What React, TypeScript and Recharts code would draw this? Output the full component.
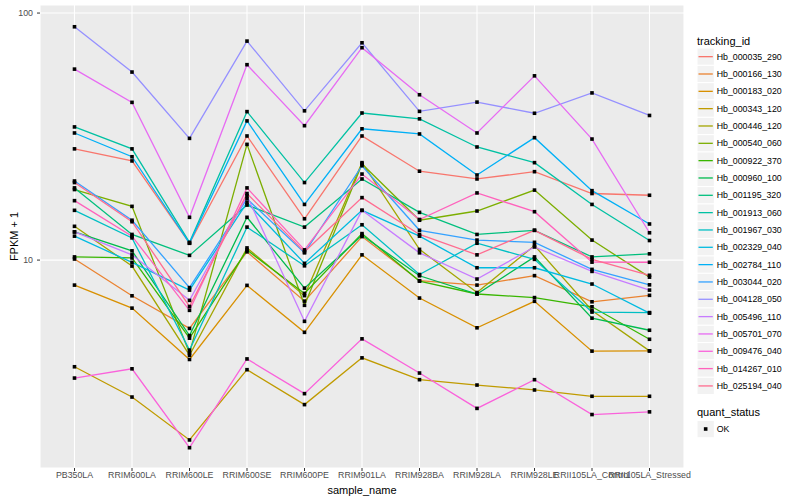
import { LineChart, Line, XAxis, YAxis, CartesianGrid } from "recharts";

const SAMPLES = [
  "PB350LA",
  "RRIM600LA",
  "RRIM600LE",
  "RRIM600SE",
  "RRIM600PE",
  "RRIM901LA",
  "RRIM928BA",
  "RRIM928LA",
  "RRIM928LE",
  "RRII105LA_Control",
  "RRII105LA_Stressed",
];

// FPKM + 1 per sample, one array per tracking_id
const HB_000035_290 = [28.2, 25.2, 11.7, 31.8, 14.7, 31.8, 22.9, 21.3, 22.8, 18.6, 18.3];
const HB_000166_130 = [10.1, 7.17, 5.29, 10.8, 6.82, 12.45, 8.25, 7.92, 8.65, 6.78, 7.2];
const HB_000183_020 = [7.92, 6.39, 3.96, 7.9, 5.1, 10.5, 7.02, 5.32, 6.81, 4.28, 4.29];
const HB_000343_120 = [3.7, 2.79, 1.87, 3.6, 2.6, 4.02, 3.28, 3.12, 2.98, 2.81, 2.81];
const HB_000446_120 = [13.7, 9.46, 4.12, 11.2, 7.18, 24.8, 11.05, 7.39, 11.45, 6.25, 4.29];
const HB_000540_060 = [19.3, 16.5, 4.2, 29.4, 6.56, 24.5, 14.5, 15.8, 19.2, 12.05, 8.53];
const HB_000922_370 = [10.3, 10.2, 4.83, 10.98, 7.33, 12.8, 8.22, 7.29, 7.05, 6.47, 4.78];
const HB_000960_100 = [13.0, 10.9, 4.95, 14.9, 7.7, 12.6, 8.64, 7.29, 10.3, 5.82, 5.2];
const HB_001195_320 = [19.6, 12.7, 10.45, 16.7, 13.6, 21.3, 15.6, 12.7, 13.2, 10.3, 10.6];
const HB_001913_060 = [34.6, 28.2, 11.8, 39.9, 20.6, 39.4, 37.3, 28.7, 24.8, 16.8, 12.0];
const HB_001967_030 = [15.9, 12.3, 4.32, 13.6, 9.48, 13.9, 8.74, 11.7, 10.07, 6.16, 6.13];
const HB_002329_040 = [12.5, 9.79, 7.56, 17.1, 9.7, 15.9, 12.5, 9.31, 9.31, 8.0, 6.1];
const HB_002784_110 = [32.7, 26.2, 11.7, 36.6, 16.8, 34.0, 32.4, 22.1, 31.3, 19.1, 14.0];
const HB_003044_020 = [20.9, 14.5, 7.74, 17.7, 10.7, 24.1, 13.2, 12.05, 11.8, 9.17, 7.94];
const HB_004128_050 = [88.0, 57.7, 31.1, 77.0, 40.2, 75.8, 40.0, 43.6, 39.3, 47.5, 38.5];
const HB_005496_110 = [13.0, 10.5, 6.87, 18.2, 5.65, 15.9, 10.7, 8.38, 11.3, 9.0, 7.56];
const HB_005701_070 = [59.3, 43.5, 14.9, 61.8, 35.0, 72.4, 46.7, 32.7, 55.7, 30.9, 12.9];
const HB_009476_040 = [3.33, 3.63, 1.74, 3.98, 2.88, 4.8, 3.49, 2.51, 3.28, 2.37, 2.43];
const HB_014267_010 = [17.4, 12.5, 6.26, 19.6, 11.0, 22.3, 14.6, 18.7, 15.7, 9.81, 9.8];
const HB_025194_040 = [20.6, 14.3, 6.49, 18.6, 10.8, 17.9, 12.7, 10.5, 13.2, 10.07, 8.68];

const SERIES = [
  { id: "Hb_000035_290", color: "#F8766D", values: HB_000035_290 },
  { id: "Hb_000166_130", color: "#EA8331", values: HB_000166_130 },
  { id: "Hb_000183_020", color: "#D89000", values: HB_000183_020 },
  { id: "Hb_000343_120", color: "#C09B00", values: HB_000343_120 },
  { id: "Hb_000446_120", color: "#A3A500", values: HB_000446_120 },
  { id: "Hb_000540_060", color: "#7CAE00", values: HB_000540_060 },
  { id: "Hb_000922_370", color: "#39B600", values: HB_000922_370 },
  { id: "Hb_000960_100", color: "#00BB4E", values: HB_000960_100 },
  { id: "Hb_001195_320", color: "#00BF7D", values: HB_001195_320 },
  { id: "Hb_001913_060", color: "#00C1A3", values: HB_001913_060 },
  { id: "Hb_001967_030", color: "#00BFC4", values: HB_001967_030 },
  { id: "Hb_002329_040", color: "#00BAE0", values: HB_002329_040 },
  { id: "Hb_002784_110", color: "#00B0F6", values: HB_002784_110 },
  { id: "Hb_003044_020", color: "#35A2FF", values: HB_003044_020 },
  { id: "Hb_004128_050", color: "#9590FF", values: HB_004128_050 },
  { id: "Hb_005496_110", color: "#C77CFF", values: HB_005496_110 },
  { id: "Hb_005701_070", color: "#E76BF3", values: HB_005701_070 },
  { id: "Hb_009476_040", color: "#FA62DB", values: HB_009476_040 },
  { id: "Hb_014267_010", color: "#FF62BC", values: HB_014267_010 },
  { id: "Hb_025194_040", color: "#FF6C90", values: HB_025194_040 },
];

const Y_TICKS = [10, 100];
const Y_MINOR = [Math.sqrt(10), Math.sqrt(1000)];

const data = SAMPLES.map((sample, i) => {
  const row: Record<string, string | number> = { sample };
  SERIES.forEach((s) => {
    row[s.id] = s.values[i];
  });
  return row;
});

const FONT = '"Liberation Sans", Arial, Helvetica, sans-serif';

const squareDot = (p: any) => {
  if (p.cx == null || p.cy == null) return <g key={`${p.dataKey}-${p.index}`} />;
  return (
    <rect
      key={`${p.dataKey}-${p.index}`}
      x={p.cx - 1.8}
      y={p.cy - 1.8}
      width={3.6}
      height={3.6}
      fill="#000"
    />
  );
};

function LegendPanel() {
  const rowH = 17.33;
  const top = 48;
  return (
    <svg
      width={110}
      height={500}
      style={{ position: "absolute", left: 690, top: 0, fontFamily: FONT }}
    >
      <text x={7} y={44.5} fontSize={11} fill="#000">
        tracking_id
      </text>
      {SERIES.map((s, i) => {
        const y = top + i * rowH;
        return (
          <g key={s.id}>
            <rect x={7} y={y} width={rowH} height={rowH} fill="#F2F2F2" stroke="#fff" strokeWidth={1} />
            <line x1={8.5} x2={22.8} y1={y + rowH / 2} y2={y + rowH / 2} stroke={s.color} strokeWidth={1.3} />
            <text x={26.7} y={y + rowH / 2 + 3.1} fontSize={8.8} fill="#000">
              {s.id}
            </text>
          </g>
        );
      })}
      <text x={7} y={416.3} fontSize={11} fill="#000">
        quant_status
      </text>
      <rect x={7} y={420.4} width={rowH} height={rowH} fill="#F2F2F2" stroke="#fff" strokeWidth={1} />
      <rect x={7 + rowH / 2 - 1.8} y={429 - 1.8} width={3.6} height={3.6} fill="#000" />
      <text x={26.7} y={432.1} fontSize={8.8} fill="#000">
        OK
      </text>
    </svg>
  );
}

export default function App() {
  return (
    <div
      style={{
        position: "absolute",
        left: 0,
        top: 0,
        width: 800,
        height: 500,
        background: "#fff",
        fontFamily: FONT,
      }}
    >
      <LineChart width={800} height={500} data={data} margin={{ top: 5, right: 116, bottom: 0, left: 0 }}>
        <CartesianGrid
          fill="#EBEBEB"
          stroke="#FFFFFF"
          strokeWidth={0.55}
          vertical={false}
          horizontalCoordinatesGenerator={({ yAxis }: any) =>
            yAxis && typeof yAxis.scale === "function" ? Y_MINOR.map((v) => yAxis.scale(v)) : []
          }
        />
        <CartesianGrid stroke="#FFFFFF" strokeWidth={1.1} />
        <XAxis
          dataKey="sample"
          interval={0}
          padding={{ left: 34.5, right: 34.5 }}
          height={32}
          axisLine={false}
          tickSize={3}
          tickMargin={1}
          tickLine={{ stroke: "#333333" }}
          tick={{ fill: "#4D4D4D", fontSize: 8.8 }}
          label={{ value: "sample_name", position: "insideBottom", offset: 6, fill: "#000", fontSize: 11 }}
        />
        <YAxis
          scale="log"
          type="number"
          domain={[1.44, 107.8]}
          allowDataOverflow
          ticks={Y_TICKS}
          width={40}
          axisLine={false}
          tickSize={3}
          tickMargin={4}
          tickLine={{ stroke: "#333333" }}
          tick={{ fill: "#4D4D4D", fontSize: 8.8 }}
          label={{
            value: "FPKM + 1",
            angle: -90,
            position: "insideLeft",
            offset: 14,
            fill: "#000",
            fontSize: 11,
            style: { textAnchor: "middle" },
          }}
        />
        {SERIES.map((s) => (
          <Line
            key={s.id}
            dataKey={s.id}
            stroke={s.color}
            strokeWidth={1.3}
            dot={false}
            activeDot={false}
            isAnimationActive={false}
            legendType="none"
          />
        ))}
        {SERIES.map((s) => (
          <Line
            key={`${s.id}-pts`}
            dataKey={s.id}
            stroke="none"
            dot={squareDot}
            activeDot={false}
            isAnimationActive={false}
            legendType="none"
          />
        ))}
      </LineChart>
      <LegendPanel />
    </div>
  );
}
